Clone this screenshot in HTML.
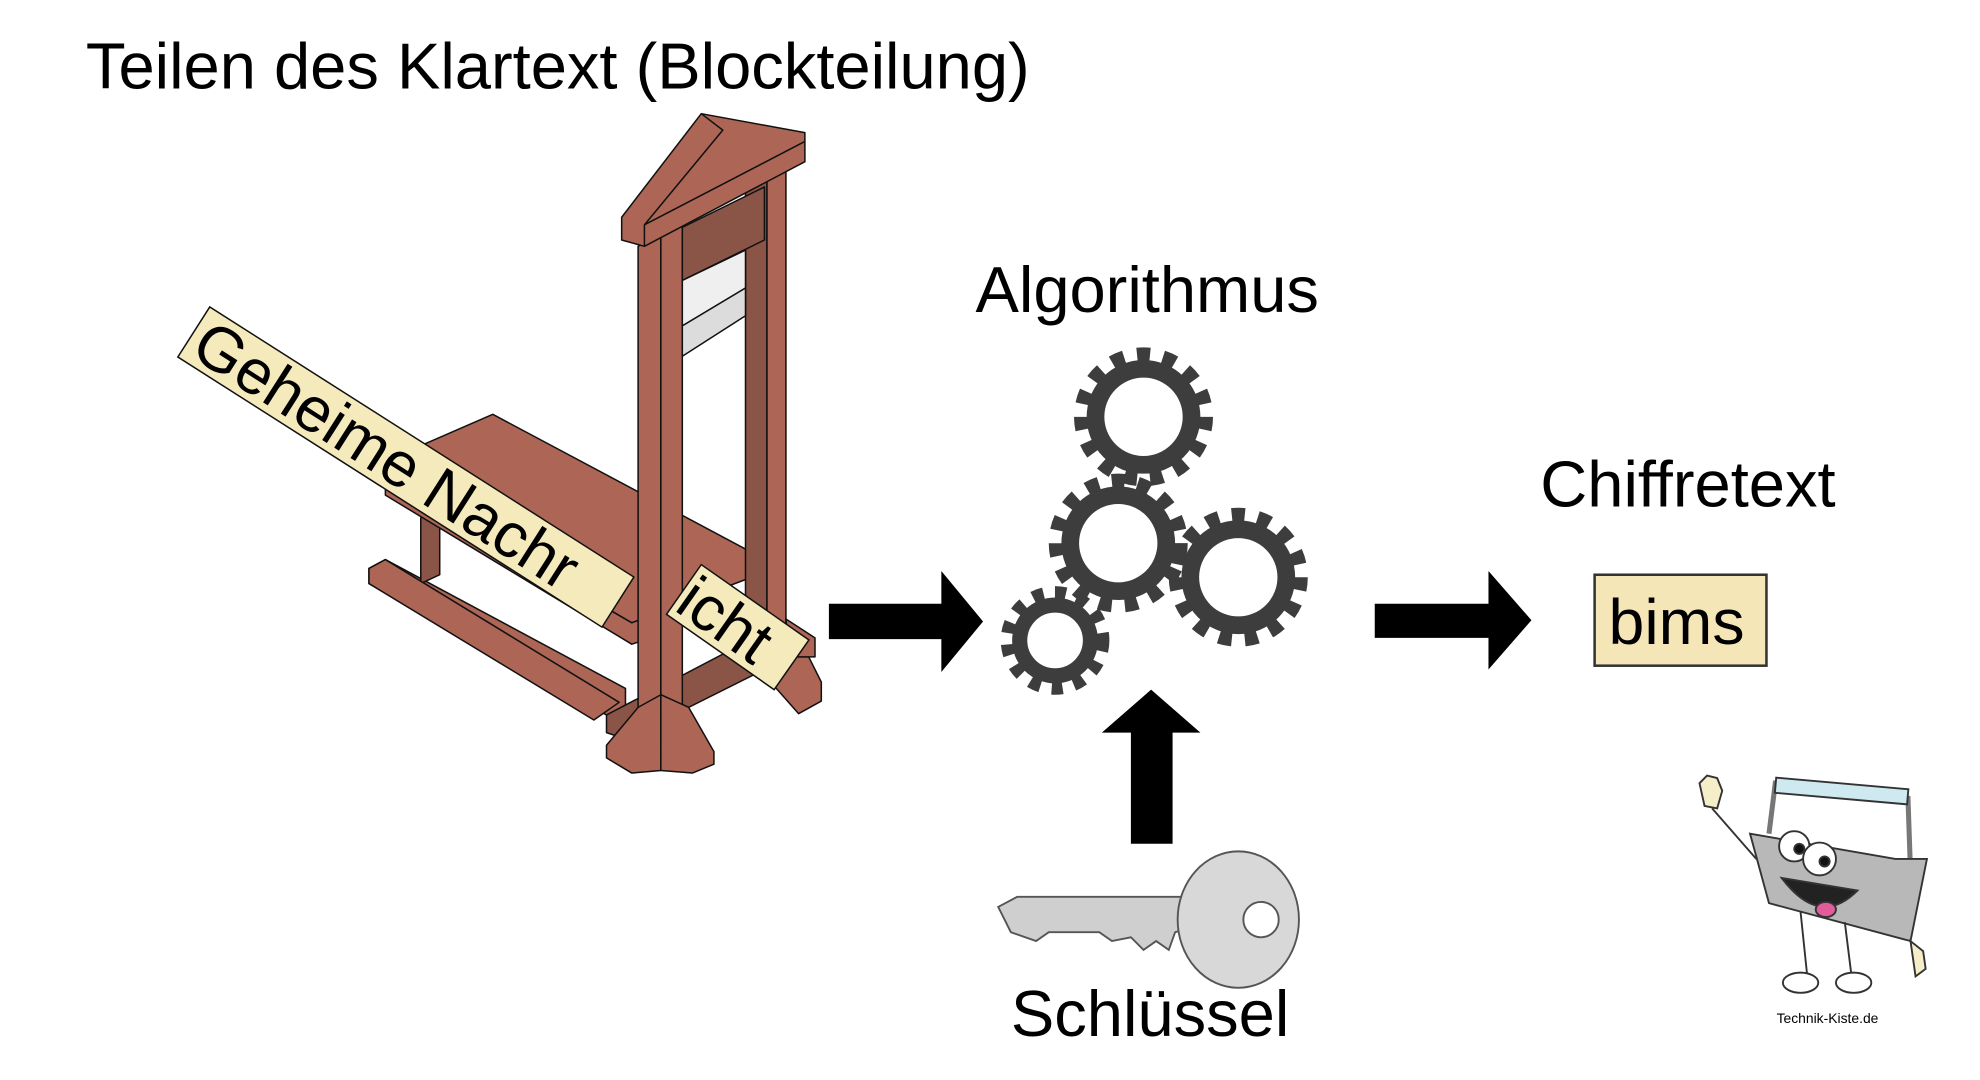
<!DOCTYPE html>
<html><head><meta charset="utf-8"><style>
html,body{margin:0;padding:0;background:#fff;width:1980px;height:1080px;overflow:hidden}
svg{display:block}
text{font-family:"Liberation Sans",sans-serif}
</style></head><body>
<svg width="1980" height="1080" viewBox="0 0 1567 855" preserveAspectRatio="none" xmlns="http://www.w3.org/2000/svg">
<rect width="1567" height="855" fill="#fff"/>
<text x="68" y="70" font-size="51.5">Teilen des Klartext (Blockteilung)</text>
<text x="772" y="247" font-size="51.5">Algorithmus</text>
<text x="1219" y="401" font-size="51.5">Chiffretext</text>
<text x="800" y="820" font-size="51.5">Schlüssel</text>

<!-- guillotine -->
<g stroke="#111" stroke-width="1.2" stroke-linejoin="round">
 <polygon points="292,450 305,443 495,545 495,560 480,566 292,462" fill="#ad6655"/>
 <polygon points="480,566 610,498 625,505 625,520 495,585 480,580" fill="#8a5446"/>
 <polygon points="333,410 348,403 348,455 333,462" fill="#8a5446"/>
 <polygon points="305,365 488,462 530,480 530,500 500,510 305,392" fill="#ad6655"/>
 <polygon points="305,365 390,328 600,440 600,455 500,493 305,380" fill="#ad6655"/>
 <line x1="305" y1="380" x2="500" y2="493" />
 <polygon points="292,450 292,462 470,570 490,556 305,443" fill="#ad6655"/>
 <polygon points="505,195 523,185 523,575 505,580" fill="#ad6655"/>
 <polygon points="523,185 540,178 540,570 523,575" fill="#ad6655"/>
 <polygon points="590,150 607,140 607,505 590,515" fill="#8a5446"/>
 <polygon points="607,140 622,133 622,500 607,505" fill="#ad6655"/>
 <polygon points="540,180 605,148 605,190 540,222" fill="#8a5446"/>
 <polygon points="540,222 590,198 590,228 540,258" fill="#efefef"/>
 <polygon points="540,258 590,228 590,250 540,282" fill="#dcdcdc"/>
 <polygon points="492,172 555,90 637,105 637,128 510,195 492,190" fill="#ad6655"/>
 <polyline points="510,195 510,178 572,103 555,90" fill="none"/>
 <line x1="510" y1="178" x2="637" y2="112"/>
 <polygon points="480,590 505,560 523,550 523,610 500,612 480,600" fill="#ad6655"/>
 <polygon points="523,550 545,560 565,595 565,605 548,612 523,610" fill="#ad6655"/>
 <polygon points="610,520 640,520 650,540 650,555 632,565 610,540" fill="#ad6655"/>
 <polygon points="622,490 645,505 645,520 625,520" fill="#ad6655"/>
</g>
<g transform="translate(166,243) rotate(32.5)">
 <rect x="0" y="0" width="398" height="47" fill="#f5eabc" stroke="#111" stroke-width="1.2"/>
 <text x="6" y="41" font-size="50">Geheime Nachr</text>
</g>
<g transform="translate(555,447) rotate(35)">
 <rect x="0" y="0" width="104" height="48" fill="#f5eabc" stroke="#111" stroke-width="1.2"/>
 <text x="2" y="42" font-size="50">icht</text>
</g>

<!-- arrows -->
<polygon points="656,478 745,478 745,452 778,492 745,532 745,506 656,506" fill="#000"/>
<polygon points="1088,478 1178,478 1178,452 1212,491 1178,530 1178,505 1088,505" fill="#000"/>
<polygon points="895,668 895,580 872,580 911,546 950,580 928,580 928,668" fill="#000"/>

<!-- gears -->
<g fill="none" stroke="#3d3d3d">
 <circle cx="905" cy="330" r="48" stroke-width="14" stroke-dasharray="10 10.1"/>
 <circle cx="905" cy="330" r="38" stroke-width="14"/>
 <circle cx="885" cy="430" r="48" stroke-width="14" stroke-dasharray="10 10.1"/>
 <circle cx="885" cy="430" r="38" stroke-width="14"/>
 <circle cx="980" cy="457" r="48" stroke-width="14" stroke-dasharray="10 10.1"/>
 <circle cx="980" cy="457" r="38" stroke-width="14"/>
 <circle cx="835" cy="507" r="37" stroke-width="12" stroke-dasharray="8.5 8.9"/>
 <circle cx="835" cy="507" r="28" stroke-width="12"/>
</g>

<!-- bims -->
<rect x="1262" y="455" width="136" height="72" fill="#f5e6b8" stroke="#333" stroke-width="2"/>
<text x="1273" y="510" font-size="51">bims</text>

<!-- key -->
<g stroke="#555" stroke-width="1.5">
 <path d="M790,718 L805,710 L940,710 L940,735 L930,738 L925,752 L915,745 L905,752 L895,742 L880,745 L870,738 L830,738 L820,745 L800,738 Z" fill="#cfcfcf"/>
 <ellipse cx="980" cy="728" rx="48" ry="54" fill="#d8d8d8"/>
 <circle cx="998" cy="728" r="14" fill="#fff"/>
</g>

<!-- mascot -->
<g stroke="#333" stroke-width="1.5">
 <path d="M1400,660 L1405,620 L1510,632 L1512,690" fill="none" stroke-width="4" stroke="#777"/>
 <rect x="1405" y="620" width="105" height="12" fill="#cfe9f0" transform="rotate(5 1455 626)"/>
 <polygon points="1385,660 1500,680 1525,680 1512,745 1400,715" fill="#b8b8b8"/>
 <circle cx="1420" cy="670" r="12" fill="#fff"/>
 <circle cx="1440" cy="680" r="13" fill="#fff"/>
 <circle cx="1424" cy="672" r="4" fill="#111"/>
 <circle cx="1444" cy="682" r="4" fill="#111"/>
 <path d="M1410,695 Q1440,735 1470,705 Z" fill="#222"/>
 <ellipse cx="1445" cy="720" rx="8" ry="6" fill="#e25c9a"/>
 <line x1="1425" y1="722" x2="1430" y2="770" fill="none"/>
 <line x1="1460" y1="730" x2="1465" y2="770" fill="none"/>
 <ellipse cx="1425" cy="778" rx="14" ry="8" fill="#fff"/>
 <ellipse cx="1467" cy="778" rx="14" ry="8" fill="#fff"/>
 <path d="M1345,620 l6,-6 l8,2 l4,10 l-4,14 l-10,-2 z" fill="#f5eec8"/>
 <line x1="1355" y1="640" x2="1390" y2="680" fill="none"/>
 <path d="M1512,745 l10,8 l2,14 l-8,6 z" fill="#f5eec8"/>
</g>
<text x="1406" y="810" font-size="11">Technik-Kiste.de</text>
</svg>
</body></html>
